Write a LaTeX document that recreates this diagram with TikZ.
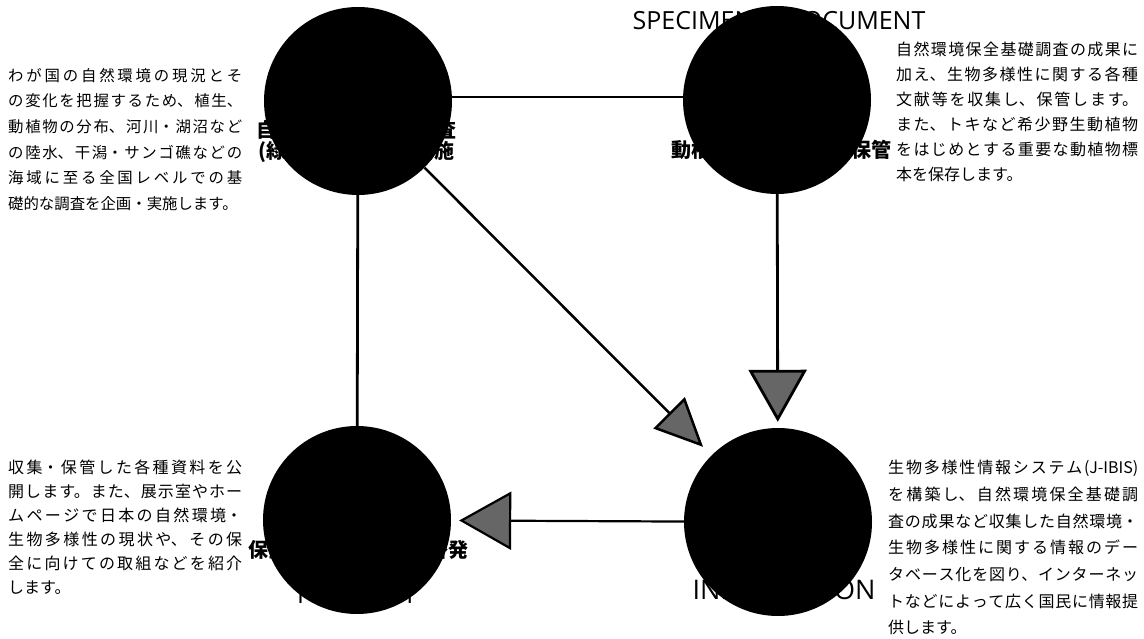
\documentclass[tikz,border=0pt]{standalone}
\usepackage{fontspec}
\setmainfont{Liberation Sans}
\newfontfamily\cjk{Noto Sans CJK JP}
\newfontfamily\latn{Open Sans}
\usetikzlibrary{arrows.meta}
\XeTeXlinebreaklocale "ja"
\XeTeXlinebreakskip=0pt plus 8pt
\begin{document}
\begin{tikzpicture}[x=1pt,y=-1pt,
  desc/.style={inner sep=0pt, anchor=north west, align=justify},
  ball/.style={circle, fill=black, minimum size=188pt, inner sep=0pt},
  clabel/.style={font=\cjk\bfseries\fontsize{20}{21}\selectfont, inner sep=0pt, align=center},
  elabel/.style={font=\latn\fontsize{25}{25}\selectfont, inner sep=0pt, anchor=base},
  link/.style={line width=2.8pt},
  arr/.style={link, -{Triangle[length=52pt,width=58pt,fill=black!60]}}
]
\useasboundingbox (0,0) rectangle (1144,639);

% description texts
\node[desc, text width=234pt, font=\cjk\fontsize{15.4}{25.6}\selectfont] (t1) at (8,68)
 {わが国の自然環境の現況とそ\linebreak
 の変化を把握するため、植生、\linebreak
 動植物の分布、河川・湖沼など\linebreak
 の陸水、干潟・サンゴ礁などの\linebreak
 海域に至る全国レベルでの基\linebreak
 礎的な調査を企画・実施します。};

\node[desc, text width=242pt, font=\cjk\fontsize{16}{25}\selectfont] (t2) at (896,42)
 {自然環境保全基礎調査の成果に\linebreak
 加え、生物多様性に関する各種\linebreak
 文献等を収集し、保管します。\linebreak
 また、トキなど希少野生動植物\linebreak
 をはじめとする重要な動植物標\linebreak
 本を保存します。};

\node[desc, text width=234pt, font=\cjk\fontsize{16}{24}\selectfont] (t3) at (8,460)
 {収集・保管した各種資料を公\linebreak
 開します。また、展示室やホー\linebreak
 ムページで日本の自然環境・\linebreak
 生物多様性の現状や、その保\linebreak
 全に向けての取組などを紹介\linebreak
 します。};

\node[desc, text width=250pt, font=\cjk\fontsize{16}{26.7}\selectfont] (t4) at (888,460)
 {生物多様性情報システム(J-IBIS)\linebreak
 を構築し、自然環境保全基礎調\linebreak
 査の成果など収集した自然環境・\linebreak
 生物多様性に関する情報のデー\linebreak
 タベース化を図り、インターネッ\linebreak
 トなどによって広く国民に情報提\linebreak
 供します。};

% labels behind the circles
\node[elabel] (e1) at (779,30) {SPECIMEN \& DOCUMENT};
\node[elabel, font=\latn\fontsize{27}{27}\selectfont] (e2) at (784,599) {INFORMATION};
\node[elabel] (e3) at (357,603) {PUBLICITY};
\node[clabel] (c1) at (356,141.5) {自然環境保全基礎調査\\(緑の国勢調査)の実施};
\node[clabel] (c2) at (781,150) {動植物標本の収集・保管};
\node[clabel] (c3) at (358,550) {保全に向けた普及・啓発};

% circles
\node[ball] (srv) at (358,101) {};
\node[ball] (spc) at (777,100) {};
\node[ball] (pub) at (357,520) {};
\node[ball] (inf) at (778,522) {};

% connectors
\draw[link] (srv.east |- 0,97) -- (spc.west |- 0,97);
\draw[link] (srv) -- (pub);
\draw[link, line width=2.5pt, -{Triangle[length=48pt,width=44pt,fill=black!60]}, shorten >=12pt] (srv) -- (inf);
\draw[arr, shorten >=6pt] (spc) -- (inf);
\draw[arr, line width=2.2pt, shorten >=8pt] (inf) -- (pub);
\end{tikzpicture}
\end{document}
